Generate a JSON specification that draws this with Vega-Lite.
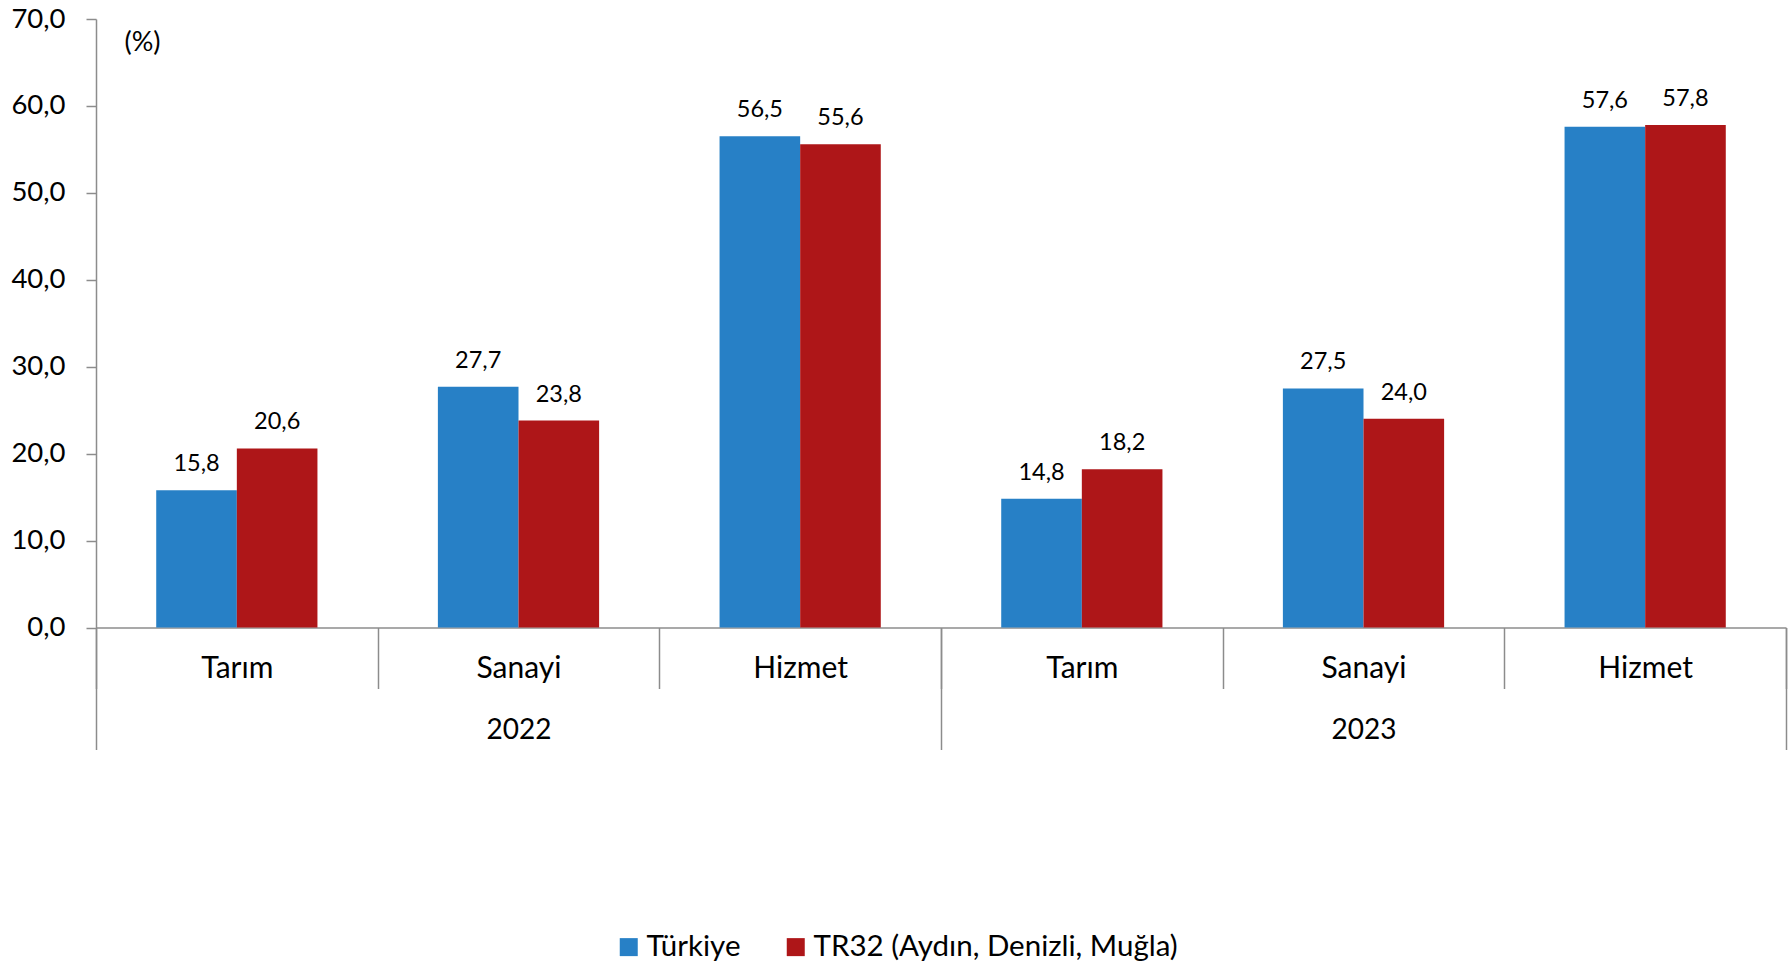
{
  "$schema": "https://vega.github.io/schema/vega-lite/v6.json",
  "width": 1690,
  "height": 608.5,
  "autosize": {"type": "none"},
  "padding": {"left": 96, "top": 19, "right": 6, "bottom": 335.5},
  "config": {
    "view": {"stroke": null},
    "font": "Lato",
    "locale": {"number": {"decimal": ",", "thousands": ".", "grouping": [3], "currency": ["", " TL"]}}
  },
  "data": {
    "values": [
      {"year": "2022", "sector": "Tarım", "slot": "2022|Tarım", "series": "Türkiye", "value": 15.8},
      {"year": "2022", "sector": "Tarım", "slot": "2022|Tarım", "series": "TR32 (Aydın, Denizli, Muğla)", "value": 20.6},
      {"year": "2022", "sector": "Sanayi", "slot": "2022|Sanayi", "series": "Türkiye", "value": 27.7},
      {"year": "2022", "sector": "Sanayi", "slot": "2022|Sanayi", "series": "TR32 (Aydın, Denizli, Muğla)", "value": 23.8},
      {"year": "2022", "sector": "Hizmet", "slot": "2022|Hizmet", "series": "Türkiye", "value": 56.5},
      {"year": "2022", "sector": "Hizmet", "slot": "2022|Hizmet", "series": "TR32 (Aydın, Denizli, Muğla)", "value": 55.6},
      {"year": "2023", "sector": "Tarım", "slot": "2023|Tarım", "series": "Türkiye", "value": 14.8},
      {"year": "2023", "sector": "Tarım", "slot": "2023|Tarım", "series": "TR32 (Aydın, Denizli, Muğla)", "value": 18.2},
      {"year": "2023", "sector": "Sanayi", "slot": "2023|Sanayi", "series": "Türkiye", "value": 27.5},
      {"year": "2023", "sector": "Sanayi", "slot": "2023|Sanayi", "series": "TR32 (Aydın, Denizli, Muğla)", "value": 24.0},
      {"year": "2023", "sector": "Hizmet", "slot": "2023|Hizmet", "series": "Türkiye", "value": 57.6},
      {"year": "2023", "sector": "Hizmet", "slot": "2023|Hizmet", "series": "TR32 (Aydın, Denizli, Muğla)", "value": 57.8}
    ]
  },
  "layer": [
    {
      "encoding": {
        "x": {
          "field": "slot",
          "type": "nominal",
          "sort": ["2022|Tarım", "2022|Sanayi", "2022|Hizmet", "2023|Tarım", "2023|Sanayi", "2023|Hizmet"],
          "scale": {"type": "band", "paddingInner": 0, "paddingOuter": 0},
          "axis": {
            "title": null,
            "labelExpr": "split(datum.label, '|')[1]",
            "labelAngle": 0,
            "labelFont": "Lato",
            "labelFontSize": 30,
            "labelColor": "#000000",
            "labelBaseline": "middle",
            "labelPadding": -20,
            "domainColor": "#8c8c8c",
            "domainWidth": 1.5,
            "tickColor": "#8c8c8c",
            "tickWidth": 1.5,
            "tickSize": 61,
            "tickBand": "extent"
          }
        },
        "xOffset": {
          "field": "series",
          "type": "nominal",
          "sort": ["Türkiye", "TR32 (Aydın, Denizli, Muğla)"],
          "scale": {"paddingInner": 0, "paddingOuter": 0.747}
        },
        "y": {
          "field": "value",
          "type": "quantitative",
          "scale": {"domain": [0, 70], "nice": false, "zero": true},
          "axis": {
            "values": [0, 10, 20, 30, 40, 50, 60, 70],
            "format": ".1f",
            "grid": false,
            "title": "(%)",
            "titleAngle": 0,
            "titleX": 46,
            "titleY": 23,
            "titleAlign": "center",
            "titleBaseline": "middle",
            "titleFont": "Lato",
            "titleFontSize": 27,
            "titleFontWeight": "normal",
            "titleColor": "#000000",
            "labelFont": "Lato",
            "labelFontSize": 27.5,
            "labelColor": "#000000",
            "labelPadding": 21,
            "tickSize": 10,
            "tickColor": "#8c8c8c",
            "tickWidth": 1.5,
            "domainColor": "#8c8c8c",
            "domainWidth": 1.5
          }
        }
      },
      "layer": [
        {
          "mark": {"type": "bar"},
          "encoding": {
            "color": {
              "field": "series",
              "type": "nominal",
              "scale": {"domain": ["Türkiye", "TR32 (Aydın, Denizli, Muğla)"], "range": ["#2780C6", "#AE1618"]},
              "legend": {
                "title": null,
                "orient": "none",
                "legendX": 518,
                "legendY": 913,
                "direction": "horizontal",
                "symbolType": "square",
                "symbolSize": 324,
                "symbolStrokeWidth": 0,
                "symbolOpacity": 1,
                "labelFont": "Lato",
                "labelFontSize": 29.5,
                "labelColor": "#000000",
                "labelOffset": 3,
                "labelLimit": 1000,
                "columnPadding": 40,
                "padding": 0
              }
            }
          }
        },
        {
          "mark": {"type": "text", "dy": -19, "baseline": "alphabetic", "align": "center", "fontSize": 23.5, "font": "Lato", "color": "#000000"},
          "encoding": {
            "text": {"field": "value", "type": "quantitative", "format": ".1f"}
          }
        }
      ]
    },
    {
      "mark": {"type": "rule", "opacity": 0},
      "encoding": {
        "x": {
          "field": "year",
          "type": "nominal",
          "scale": {"type": "band", "paddingInner": 0, "paddingOuter": 0},
          "axis": {
            "orient": "bottom",
            "title": null,
            "domain": false,
            "labelAngle": 0,
            "labelFont": "Lato",
            "labelFontSize": 28,
            "labelColor": "#000000",
            "labelBaseline": "middle",
            "labelPadding": -19.5,
            "tickColor": "#8c8c8c",
            "tickWidth": 1.5,
            "tickSize": 122,
            "tickBand": "extent"
          }
        }
      }
    }
  ],
  "resolve": {"scale": {"x": "independent"}}
}
